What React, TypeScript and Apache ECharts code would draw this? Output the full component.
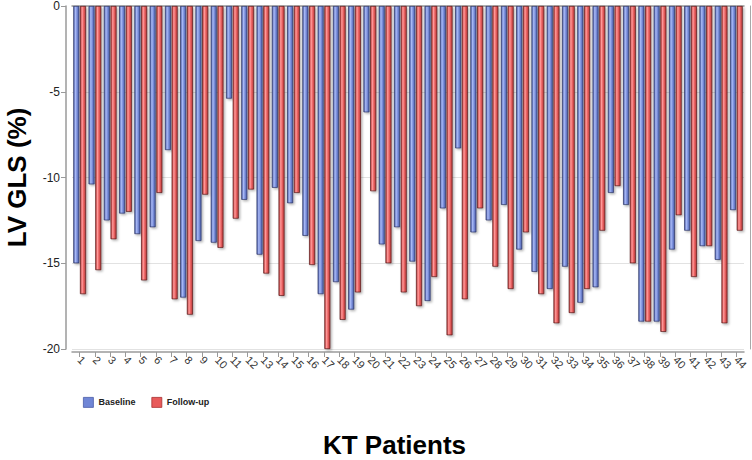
import React, { useEffect, useRef } from "react";
import * as echarts from "echarts";

const patients: string[] = Array.from({ length: 44 }, (_, i) => String(i + 1));

const baseline: number[] = [
  -15.0, -10.4, -12.5, -12.1, -13.3, -12.9, -8.4, -17.0, -13.7, -13.8,
  -5.4, -11.3, -14.5, -10.6, -11.5, -13.4, -16.8, -16.1, -17.7, -6.2,
  -13.9, -12.9, -14.9, -17.2, -11.8, -8.3, -13.2, -12.5, -11.6, -14.2,
  -15.5, -16.5, -15.2, -17.3, -16.4, -10.9, -11.6, -18.4, -18.4, -14.2,
  -13.1, -14.0, -14.8, -11.9,
];

const followUp: number[] = [
  -16.8, -15.4, -13.6, -12.0, -16.0, -10.9, -17.1, -18.0, -11.0, -14.1,
  -12.4, -10.7, -15.6, -16.9, -10.9, -15.1, -20.0, -18.3, -16.7, -10.8,
  -15.0, -16.7, -17.5, -15.8, -19.2, -17.1, -11.8, -15.2, -16.5, -13.2,
  -16.8, -18.5, -17.9, -16.5, -13.1, -10.5, -15.0, -18.4, -19.0, -12.2,
  -15.8, -14.0, -18.5, -13.1,
];

const yTicks: number[] = [0, -5, -10, -15, -20];

const FONT = "'Liberation Sans', Arial, Helvetica, sans-serif";

function barGradient(edge: string, mid: string, light: string) {
  return new echarts.graphic.LinearGradient(0, 0, 1, 0, [
    { offset: 0, color: edge },
    { offset: 0.35, color: light },
    { offset: 0.6, color: mid },
    { offset: 1, color: edge },
  ]);
}

export default function App() {
  const ref = useRef<HTMLDivElement>(null);

  useEffect(() => {
    if (!ref.current) return;
    const chart = echarts.init(ref.current, undefined, { renderer: "svg" });
    const blue = barGradient("#4a5ca8", "#7f93de", "#a9b9f5");
    const red = barGradient("#b83a3a", "#ec6565", "#ff9a9a");
    chart.setOption({
      animation: false,
      backgroundColor: "#ffffff",
      textStyle: { fontFamily: FONT },
      grid: {
        left: 72,
        right: 8,
        top: 6,
        bottom: 111,
        containLabel: false,
        outerBoundsMode: "none",
      },
      legend: {
        left: 78,
        top: 392,
        itemWidth: 10,
        itemHeight: 10,
        itemGap: 16,
        icon: "rect",
        textStyle: { fontFamily: FONT, fontSize: 9, fontWeight: "bold", color: "#222" },
        data: [
          { name: "Baseline", itemStyle: { color: "#7086d6", borderColor: "#4a5ca8", borderWidth: 0.8 } },
          { name: "Follow-up", itemStyle: { color: "#e85a5a", borderColor: "#a83030", borderWidth: 0.8 } },
        ],
      },
      xAxis: [
        {
          type: "category",
          data: patients,
          position: "bottom",
          offset: 3,
          axisLine: { onZero: false, show: true, lineStyle: { color: "#9a9a9a", width: 1.5 } },
          axisTick: { show: true, alignWithLabel: true, length: 5, lineStyle: { color: "#9a9a9a" } },
          axisLabel: {
            interval: 0,
            rotate: -45,
            fontSize: 11,
            color: "#333",
            fontFamily: FONT,
            margin: 6,
          },
          name: "KT Patients",
          nameLocation: "middle",
          nameGap: 80,
          nameTextStyle: {
            fontSize: 26,
            fontWeight: "bold",
            color: "#000",
            fontFamily: FONT,
            lineHeight: 26,
            padding: [0, 27, 0, 0],
          },
        },
        {
          type: "category",
          data: patients,
          position: "top",
          axisLine: { onZero: false, show: true, lineStyle: { color: "#9a9a9a", width: 1.5 } },
          axisTick: { show: false },
          axisLabel: { show: false },
        },
      ],
      yAxis: [
        {
          type: "value",
          min: -20,
          max: 0,
          interval: 5,
          offset: 6,
          axisLine: { show: true, lineStyle: { color: "#9a9a9a", width: 1.5 } },
          axisTick: { show: true, length: 5, lineStyle: { color: "#9a9a9a" } },
          axisLabel: {
            fontSize: 12,
            color: "#222",
            fontFamily: FONT,
            margin: 6,
            lineHeight: 12,
            customValues: yTicks,
          },
          splitLine: { show: true, lineStyle: { color: "#e2e2e2", width: 1 } },
          name: "LV GLS (%)",
          nameLocation: "middle",
          nameGap: 36,
          nameRotate: 90,
          nameTextStyle: { fontSize: 26, fontWeight: "bold", color: "#000", fontFamily: FONT },
        },
        {
          type: "value",
          min: -20,
          max: 0,
          interval: 5,
          position: "right",
          offset: 6,
          axisLine: { show: true, lineStyle: { color: "#a8a8a8", width: 1 } },
          axisTick: { show: false },
          axisLabel: { show: false },
          splitLine: { show: false },
        },
      ],
      series: [
        {
          name: "Baseline",
          type: "bar",
          data: baseline,
          barWidth: 6,
          barGap: "12%",
          itemStyle: {
            color: blue,
            borderColor: "#2c3566",
            borderWidth: 0.7,
            shadowColor: "rgba(0,0,0,0.3)",
            shadowBlur: 2,
            shadowOffsetX: 1.5,
            shadowOffsetY: 1.5,
          },
        },
        {
          name: "Follow-up",
          type: "bar",
          data: followUp,
          barWidth: 6,
          barGap: "12%",
          itemStyle: {
            color: red,
            borderColor: "#5a1a1a",
            borderWidth: 0.7,
            shadowColor: "rgba(0,0,0,0.3)",
            shadowBlur: 2,
            shadowOffsetX: 1.5,
            shadowOffsetY: 1.5,
          },
        },
      ],
    });
    return () => chart.dispose();
  }, []);

  return (
    <div
      ref={ref}
      style={{ position: "absolute", left: 0, top: 0, width: 752, height: 460 }}
    />
  );
}
